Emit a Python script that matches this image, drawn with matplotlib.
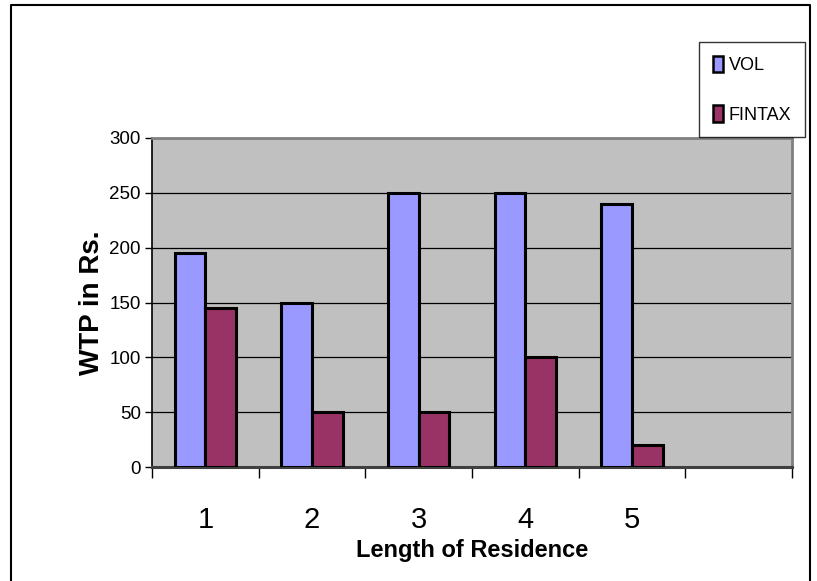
import numpy as np
import matplotlib.pyplot as plt
from matplotlib.lines import Line2D
from matplotlib.patches import Patch

plt.rcParams['font.family'] = ['Liberation Sans', 'DejaVu Sans']

categories = ["1", "2", "3", "4", "5"]
vol = [195, 150, 250, 250, 240]
fintax = [145, 50, 50, 100, 20]
yticks = [0, 50, 100, 150, 200, 250, 300]

W, H = 817, 581
fig = plt.figure(figsize=(W / 100, H / 100), dpi=100)
ax = fig.add_axes([152 / W, 1 - 467 / H, 640 / W, (467 - 138) / H])
ax.set_facecolor('#c0c0c0')

x = np.arange(len(categories))
bw = 0.286
ax.bar(x - bw / 2, vol, bw, color='#9999ff', edgecolor='black', linewidth=2.2, zorder=3, label='VOL')
ax.bar(x + bw / 2, fintax, bw, color='#993366', edgecolor='black', linewidth=2.2, zorder=3, label='FINTAX')

ax.set_xlim(-0.5, 5.5)
ax.set_ylim(0, 300)
ax.set_yticks(yticks)
ax.set_yticklabels([str(v) for v in yticks], fontsize=13.5)
for v in yticks[1:-1]:
    ax.axhline(v, color='black', linewidth=0.9, zorder=1)

ax.set_xticks(x)
ax.set_xticklabels(categories, fontsize=21)
ax.set_xticks(np.arange(-0.5, 6.0, 1.0), minor=True)
ax.tick_params(axis='x', which='major', length=0, pad=28)
ax.tick_params(axis='x', which='minor', length=8, width=1, color='black')
ax.tick_params(axis='y', length=5, width=1, color='black', pad=3)

for s in ['top', 'right']:
    ax.spines[s].set_color('#808080')
    ax.spines[s].set_linewidth(2)
ax.spines['left'].set_linewidth(1.2)
ax.spines['bottom'].set_linewidth(2.2)
ax.spines['bottom'].set_color('#404040')

ax.set_ylabel('WTP in Rs.', fontsize=20, fontweight='bold', labelpad=3)
ax.set_xlabel('Length of Residence', fontsize=17, fontweight='bold', labelpad=4)

# outer chart border (open at the bottom)
fx = [11 / W, 11 / W, 810 / W, 810 / W]
fy = [0, 1 - 5 / H, 1 - 5 / H, 0]
fig.add_artist(Line2D(fx, fy, color='black', linewidth=1.5, transform=fig.transFigure))

handles = [Patch(facecolor='#9999ff', edgecolor='black', linewidth=1.8),
           Patch(facecolor='#993366', edgecolor='black', linewidth=1.8)]
leg = fig.legend(handles, ['VOL', 'FINTAX'], loc='upper left',
                 bbox_to_anchor=(699 / W, 1 - 42 / H), frameon=True, fancybox=False,
                 fontsize=13, handlelength=0.6, handleheight=1.0,
                 handletextpad=0.3, labelspacing=1.75, borderpad=0.75, borderaxespad=0)
leg.get_frame().set_edgecolor('black')
leg.get_frame().set_linewidth(1)

fig.savefig('out.png', dpi=100)
